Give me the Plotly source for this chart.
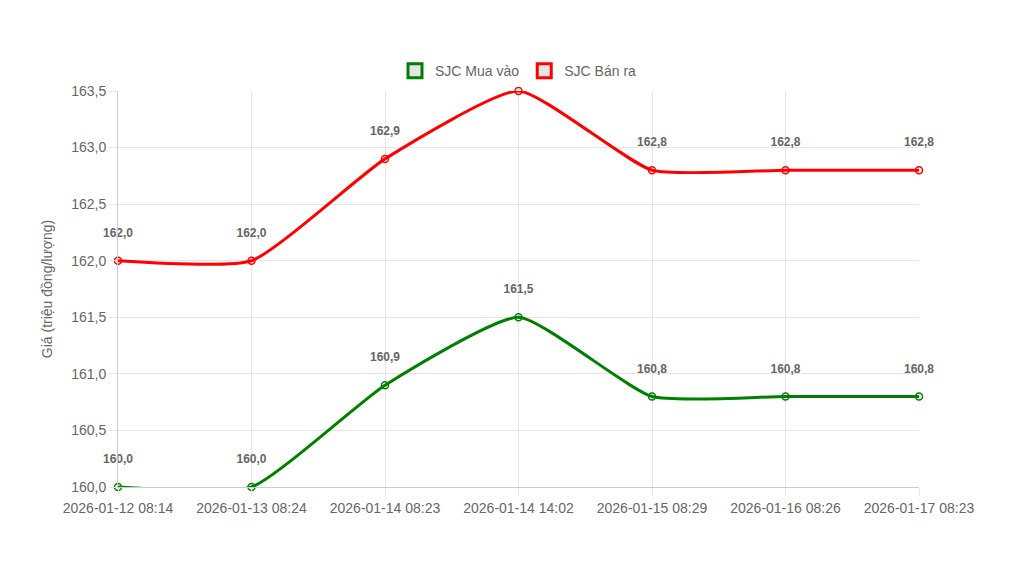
import plotly.graph_objects as go

dates = ["2026-01-12 08:14","2026-01-13 08:24","2026-01-14 08:23","2026-01-14 14:02",
         "2026-01-15 08:29","2026-01-16 08:26","2026-01-17 08:23"]
mua = [160.0,160.0,160.9,161.5,160.8,160.8,160.8]
ban = [162.0,162.0,162.9,163.5,162.8,162.8,162.8]

def lab(v): return f"{v:.1f}".replace(".", ",")

fig = go.Figure()
for name, vals, col in [("SJC Mua vào", mua, "green"), ("SJC Bán ra", ban, "red")]:
    fig.add_trace(go.Scatter(x=dates, y=vals, mode="lines+markers+text", name=name,
        line=dict(color=col, width=3, shape="spline", smoothing=0.5),
        marker=dict(symbol="circle-open", size=7, color=col, line=dict(width=1.5)),
        text=[lab(v) for v in vals], textposition="top center",
        textfont=dict(family="Arial", size=12, color="#666"),
        texttemplate="<b>%{text}</b><br> ", cliponaxis=False, showlegend=False))
    fig.add_trace(go.Scatter(x=[None], y=[None], mode="markers", name=name,
        marker=dict(symbol="square", size=14, color="#e5e5e5", line=dict(color=col, width=3))))

fig.update_layout(width=1024, height=576, paper_bgcolor="white", plot_bgcolor="white",
    margin=dict(l=110, r=113, t=83, b=97, autoexpand=False), separators=",.",
    font=dict(family="Arial", size=14, color="#666"),
    legend=dict(orientation="h", x=0.5, xanchor="center", y=1.01, yanchor="bottom",
                font=dict(size=14, color="#666")))
fig.update_xaxes(type="category", range=[0, 6], showgrid=True, gridcolor="#e5e5e5",
    showline=True, linecolor="#ccc", ticks="outside", tickcolor="#e5e5e5", ticklen=8)
fig.update_yaxes(range=[160, 163.5], dtick=0.5, tickformat=".1f", showgrid=True,
    gridcolor="#e5e5e5", showline=True, linecolor="#ccc", ticks="outside",
    tickcolor="#e5e5e5", ticklen=8, title=dict(text="Giá (triệu đồng/lượng)", font=dict(size=14)))
fig.write_html("out.html")
